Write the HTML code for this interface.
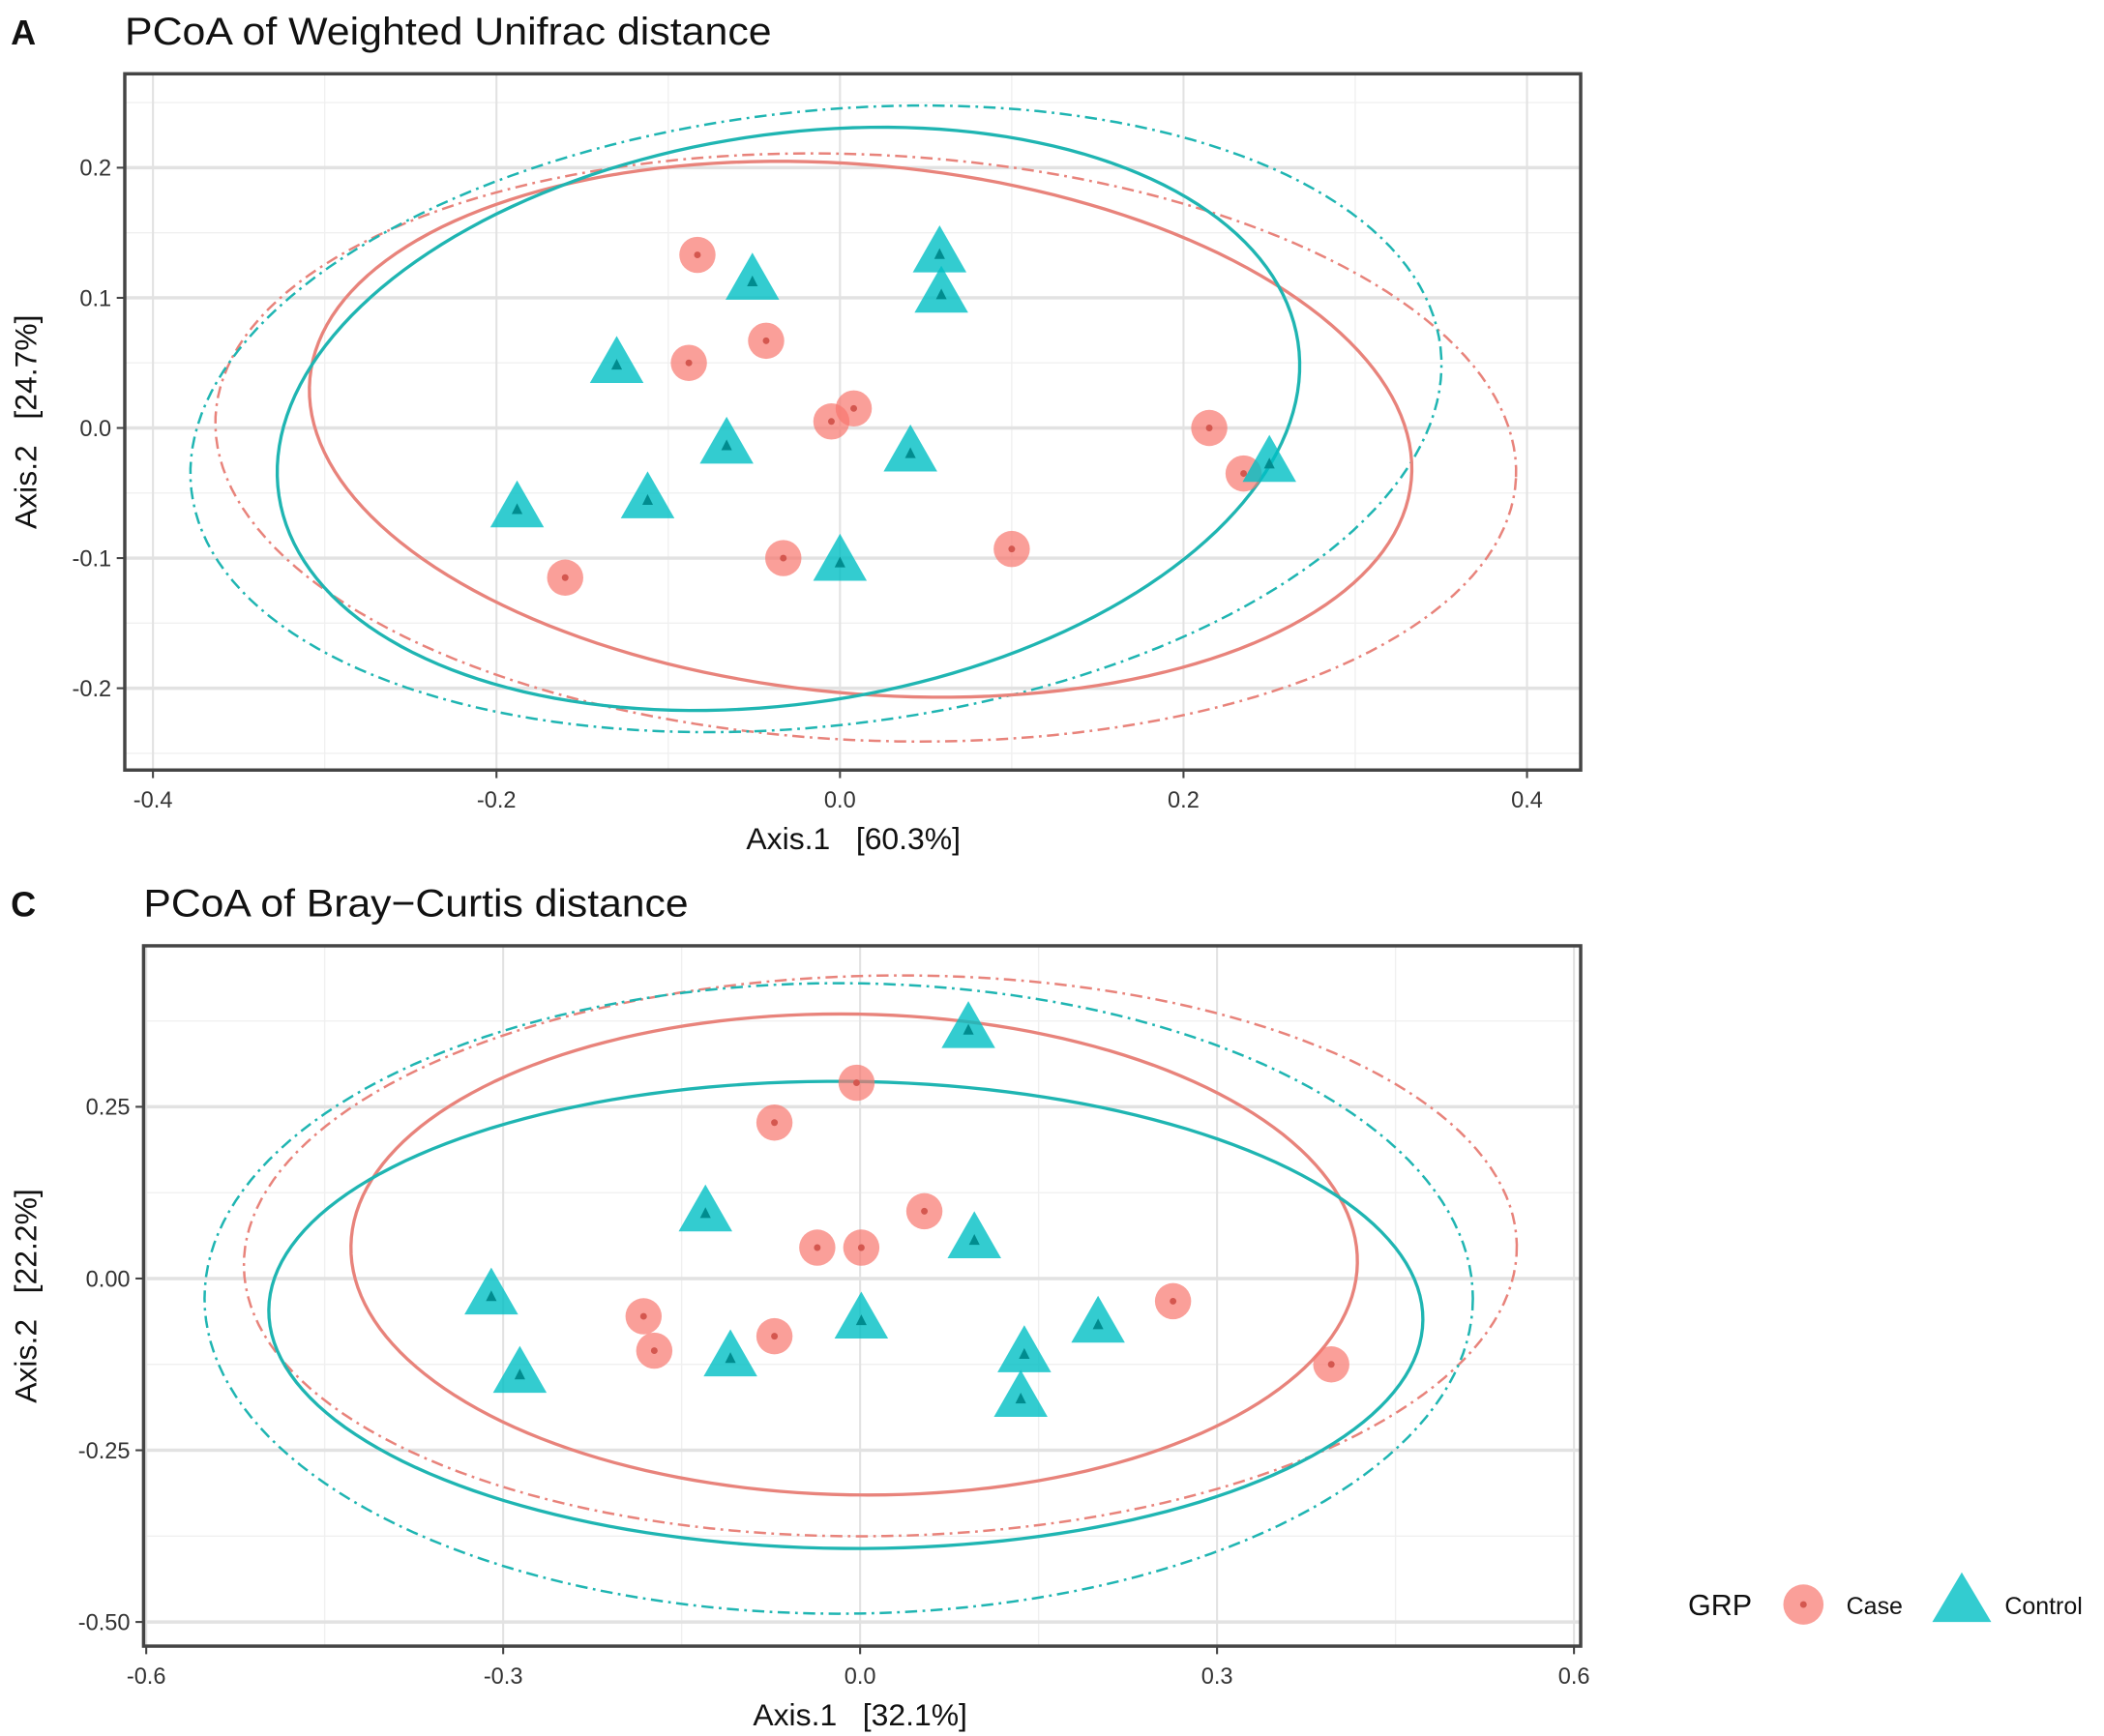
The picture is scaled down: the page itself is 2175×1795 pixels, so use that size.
<!DOCTYPE html>
<html><head><meta charset="utf-8"><style>
html,body{margin:0;padding:0;background:#fff}
svg{display:block;font-family:"Liberation Sans",Arial,sans-serif}
text{white-space:pre}
</style></head><body>
<svg id="fig" width="2175" height="1795" viewBox="0 0 1568 1294" preserveAspectRatio="none" xmlns="http://www.w3.org/2000/svg"></svg>
<script>
// ---- Panel A data ----
const aCaseX=[-0.083,-0.088,-0.043,-0.005,0.008,0.215,0.235,0.100,-0.033,-0.160];
const aCaseY=[0.133,0.050,0.067,0.005,0.015,0.000,-0.035,-0.093,-0.100,-0.115];
const aCtrlX=[-0.051,0.058,0.059,-0.130,-0.066,0.041,0.250,-0.188,-0.112,0.000];
const aCtrlY=[0.112,0.133,0.102,0.048,-0.014,-0.020,-0.028,-0.063,-0.056,-0.104];
const aXTicks=[-0.4,-0.2,0.0,0.2,0.4];
const aXLabels=["-0.4","-0.2","0.0","0.2","0.4"];
const aYTicks=[0.2,0.1,0.0,-0.1,-0.2];
const aYLabels=["0.2","0.1","0.0","-0.1","-0.2"];
// ellipses: [cx, cy, rx, ry, angle]
const aEllCaseSolid=[0.012,-0.001,0.322,0.203,5.3];
const aEllCtrlSolid=[-0.030,0.007,0.300,0.2186,-8.6];
const aEllCaseDash=[0.015,-0.015,0.379,0.225,2.7];
const aEllCtrlDash=[-0.014,0.007,0.366,0.236,-6.5];
// ---- Panel C data ----
const cCaseX=[-0.003,-0.072,0.054,-0.036,0.001,-0.182,-0.173,-0.072,0.263,0.396];
const cCaseY=[0.285,0.227,0.098,0.045,0.045,-0.055,-0.105,-0.084,-0.033,-0.125];
const cCtrlX=[0.091,-0.130,0.096,-0.310,-0.286,0.001,-0.109,0.138,0.135,0.200];
const cCtrlY=[0.361,0.094,0.055,-0.027,-0.141,-0.062,-0.117,-0.111,-0.176,-0.068];
const cXTicks=[-0.6,-0.3,0.0,0.3,0.6];
const cXLabels=["-0.6","-0.3","0.0","0.3","0.6"];
const cYTicks=[0.25,0.0,-0.25,-0.5];
const cYLabels=["0.25","0.00","-0.25","-0.50"];
const cEllCaseSolid=[-0.005,0.035,0.423,0.350,1];
const cEllCtrlSolid=[-0.012,-0.053,0.485,0.340,0.5];
const cEllCaseDash=[0.017,0.033,0.535,0.408,-1];
const cEllCtrlDash=[-0.018,-0.029,0.533,0.459,0];

const NS="http://www.w3.org/2000/svg";
const svg=document.getElementById('fig');
const RED="#F8766D", TEAL="#00BFC4", RED_L="#E8837B", TEAL_L="#1FB5B2";
function mk(tag,attrs,parent){const e=document.createElementNS(NS,tag);for(const k in attrs)e.setAttribute(k,attrs[k]);(parent||svg).appendChild(e);return e;}

function panel(o){
  const g=mk('g',{});
  
  
  const sx=v=>o.x0+(v-o.xv0)*o.xs, sy=v=>o.y0-(v-o.yv0)*o.ys;
  o.xMinor.forEach(v=>{const l=mk('line',{x1:sx(v),x2:sx(v),y1:o.top,y2:o.bot,stroke:'#f0f0f0','stroke-width':1},g);});
  o.yMinor.forEach(v=>{const l=mk('line',{x1:o.left,x2:o.right,y1:sy(v),y2:sy(v),stroke:'#f0f0f0','stroke-width':1},g);});
  o.xt.forEach(v=>{const l=mk('line',{x1:sx(v),x2:sx(v),y1:o.top,y2:o.bot,stroke:'#e2e2e2','stroke-width':1.5},g);});
  o.yt.forEach(v=>{const l=mk('line',{x1:o.left,x2:o.right,y1:sy(v),y2:sy(v),stroke:'#e2e2e2','stroke-width':2.5},g);});
  function ell(p,col,dash,nm){
    const [cx,cy,rx,ry,ang]=p;const a=rx*o.xs,b=ry*o.ys,t=ang*Math.PI/180;
    const X=sx(cx),Y=sy(cy);let d='';
    for(let i=0;i<=180;i++){const u=i/180*2*Math.PI;const dx=a*Math.cos(u),dy=b*Math.sin(u);
      d+=(i?'L':'M')+(X+dx*Math.cos(t)-dy*Math.sin(t)).toFixed(2)+','+(Y+dx*Math.sin(t)+dy*Math.cos(t)).toFixed(2);}
    const e=mk('path',{d:d+'Z',fill:'none',stroke:col,'stroke-width':dash?1.8:2.4},g);
    if(dash)e.setAttribute('stroke-dasharray','9 4 2 4');
    
  }
  ell(o.ecd,RED_L,true,'case-ellipse-dashed');
  ell(o.etd,TEAL_L,true,'control-ellipse-dashed');
  ell(o.ecs,RED_L,false,'case-ellipse');
  ell(o.ets,TEAL_L,false,'control-ellipse');
  o.cx.forEach((v,i)=>{const X=sx(v),Y=sy(o.cy[i]);
    const c=mk('circle',{cx:X,cy:Y,r:13.5,fill:RED,'fill-opacity':0.7},g);
    
    mk('circle',{cx:X,cy:Y,r:2.5,fill:'#d4574f'},g);});
  o.tx.forEach((v,i)=>{const X=sx(v),Y=sy(o.ty[i]);
    const p=mk('polygon',{points:`${X},${Y-22} ${X-20},${Y+13} ${X+20},${Y+13}`,fill:TEAL,'fill-opacity':0.8},g);
    
    mk('polygon',{points:`${X},${Y-5} ${X-4},${Y+3} ${X+4},${Y+3}`,fill:'#008c8f'},g);});
  const r=mk('rect',{x:o.left,y:o.top,width:o.right-o.left,height:o.bot-o.top,fill:'none',stroke:'#444','stroke-width':2.5},g);
  
  o.xt.forEach((v,i)=>{mk('line',{x1:sx(v),x2:sx(v),y1:o.bot,y2:o.bot+6,stroke:'#444','stroke-width':1.5},g);
    const t=mk('text',{x:sx(v),y:o.bot+28,'text-anchor':'middle','font-size':17,fill:'#333'},g);t.textContent=o.xl[i];
    });
  o.yt.forEach((v,i)=>{mk('line',{x1:o.left-6,x2:o.left,y1:sy(v),y2:sy(v),stroke:'#444','stroke-width':1.5},g);
    const t=mk('text',{x:o.left-10,y:sy(v)+6,'text-anchor':'end','font-size':17,fill:'#333'},g);t.textContent=o.yl[i];
    });
  const xt=mk('text',{x:o.xtX,y:o.bot+59,'text-anchor':'middle','font-size':23,fill:'#111'},g);
  xt.textContent=o.xtitle;
  const ym=(o.top+o.bot)/2;
  const yt=mk('text',{x:0,y:0,'text-anchor':'middle','font-size':23,fill:'#111',transform:`translate(27,${ym}) rotate(-90)`},g);
  yt.textContent=o.ytitle;
  const pl=mk('text',{x:8,y:o.top-22,'font-size':26,'font-weight':'bold',fill:'#111'},g);
  pl.textContent=o.letter;
  const ti=mk('text',{x:o.titleX,y:o.top-22,'font-size':29,fill:'#111',textLength:o.titleW,lengthAdjust:'spacingAndGlyphs'},g);
  ti.textContent=o.title;
}

panel({name:'panel-a',left:93,right:1178,top:55,bot:574,x0:626,xv0:0,xs:1280,y0:319,yv0:0,ys:970,
  xt:aXTicks,xl:aXLabels,yt:aYTicks,yl:aYLabels,xMinor:[-0.3,-0.1,0.1,0.3],yMinor:[0.25,0.15,0.05,-0.05,-0.15,-0.25],
  cx:aCaseX,cy:aCaseY,tx:aCtrlX,ty:aCtrlY,ecs:aEllCaseSolid,ets:aEllCtrlSolid,ecd:aEllCaseDash,etd:aEllCtrlDash,
  xtitle:'Axis.1   [60.3%]',xtX:636,ytitle:'Axis.2   [24.7%]',letter:'A',title:'PCoA of Weighted Unifrac distance',titleX:93,titleW:482});
panel({name:'panel-c',left:107,right:1178,top:705,bot:1227,x0:641,xv0:0,xs:886.7,y0:953,yv0:0,ys:512,
  xt:cXTicks,xl:cXLabels,yt:cYTicks,yl:cYLabels,xMinor:[-0.45,-0.15,0.15,0.45],yMinor:[0.375,0.125,-0.125,-0.375],
  cx:cCaseX,cy:cCaseY,tx:cCtrlX,ty:cCtrlY,ecs:cEllCaseSolid,ets:cEllCtrlSolid,ecd:cEllCaseDash,etd:cEllCtrlDash,
  xtitle:'Axis.1   [32.1%]',xtX:641,ytitle:'Axis.2   [22.2%]',letter:'C',title:'PCoA of Bray−Curtis distance',titleX:107,titleW:406});

const lg=mk('g',{});


const gt=mk('text',{x:1258,y:1204,'font-size':22,fill:'#111'},lg);gt.textContent='GRP';
mk('circle',{cx:1344,cy:1196,r:15,fill:RED,'fill-opacity':0.7},lg);
mk('circle',{cx:1344,cy:1196,r:2.5,fill:'#d4574f'},lg);
const t1=mk('text',{x:1376,y:1203,'font-size':18,fill:'#111'},lg);t1.textContent='Case';

mk('polygon',{points:'1462,1172 1440,1209 1484,1209',fill:TEAL,'fill-opacity':0.8},lg);
const t2=mk('text',{x:1494,y:1203,'font-size':18,fill:'#111'},lg);t2.textContent='Control';

</script>
</body></html>
